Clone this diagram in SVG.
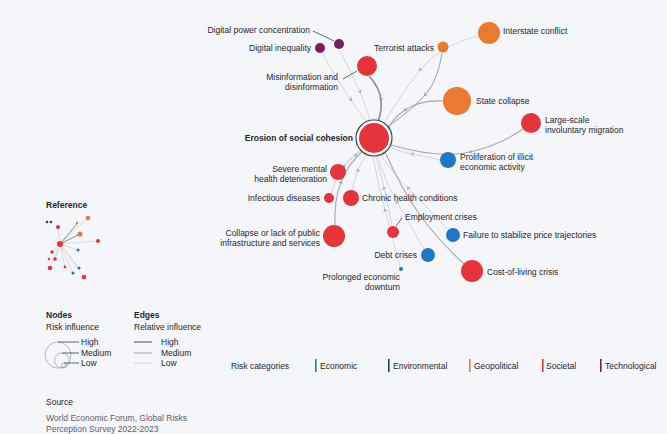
<svg xmlns="http://www.w3.org/2000/svg" width="667" height="434" viewBox="0 0 667 434">
<defs>
<style>
text{font-family:"Liberation Sans",Arial,sans-serif;font-size:8.5px;fill:#1f2630}
.b{font-weight:bold}
.e{text-anchor:end}
.src{fill:#5a6270}
.soc{fill:#e5343c}
.geo{fill:#ea7a2f}
.eco{fill:#1f78c1}
.tec{fill:#7b1d5c}
.hi{fill:none;stroke:#8d9299;stroke-width:1.7}
.md{fill:none;stroke:#a6abb2;stroke-width:1.1}
.lo{fill:none;stroke:#c3c7cc;stroke-width:0.7}
.ed path{marker-mid:url(#chev)}
.lead{stroke:#3a424c;stroke-width:0.8}
</style>
<marker id="chev" viewBox="0 0 6 6" refX="3" refY="3" markerWidth="5" markerHeight="5" orient="auto" markerUnits="userSpaceOnUse">
<path d="M1 1 L4 3 L1 5" fill="none" stroke="#9aa0a7" stroke-width="1"/>
</marker>
</defs>
<rect width="667" height="434" fill="#f4f6f9"/>

<g id="connectors" class="ed">
<path class="lo" d="M322 53 Q336 78 351 100 T367 122"/>
<path class="lo" d="M339 50 Q352 72 360 92 T370 121"/>
<path class="lo" d="M478 36 Q440 45 420 70 T384 123"/>
<path class="hi" d="M369 76 Q380 88 381 100 T378 121"/>
<path class="md" d="M442 53 Q438 80 425 95 T387 127"/>
<path class="md" d="M443 101 Q420 100 405 110 T388 131"/>
<path class="md" d="M523 129 Q500 145 470 152 T391 145"/>
<path class="lo" d="M440 160 Q425 156 412 154 T391 147"/>
<path class="lo" d="M345 166 Q352 158 356 155 T362 149"/>
<path class="lo" d="M331 193 Q336 178 344 166 T362 151"/>
<path class="md" d="M335 225 Q334 200 341 182 T363 151"/>
<path class="lo" d="M352 190 Q354 180 358 170 T367 155"/>
<path class="lo" d="M392 226 Q388 205 384 188 T376 156"/>
<path class="lo" d="M447 229 Q425 205 408 188 T381 155"/>
<path class="lo" d="M424 249 Q410 225 397 202 T378 156"/>
<path class="lo" d="M400 267 Q392 235 385 210 T373 156"/>
<path class="md" d="M464 264 Q438 240 420 215 T385 152"/>
</g>

<g id="n-center">
<circle cx="374" cy="138" r="18" fill="#ffffff" stroke="#3a4550" stroke-width="1.2"/>
<circle class="soc" cx="374" cy="138" r="15"/>
<text class="b e" x="353" y="141">Erosion of social cohesion</text>
</g>
<g id="n-digital-power">
<circle class="tec" cx="339" cy="44" r="5"/>
<line class="lead" x1="313" y1="31" x2="334" y2="41"/>
<text class="e" x="310" y="33">Digital power concentration</text>
</g>
<g id="n-digital-inequality">
<circle class="tec" cx="320" cy="48" r="5"/>
<text class="e" x="311" y="51">Digital inequality</text>
</g>
<g id="n-misinformation">
<circle class="soc" cx="367" cy="66" r="10"/>
<line class="lead" x1="343" y1="79" x2="357" y2="71"/>
<text class="e" x="338" y="80">Misinformation and</text>
<text class="e" x="338" y="90">disinformation</text>
</g>
<g id="n-terrorist">
<circle class="geo" cx="443" cy="47" r="5.5"/>
<text class="e" x="434" y="51">Terrorist attacks</text>
</g>
<g id="n-interstate">
<circle class="geo" cx="489" cy="33" r="11"/>
<text x="503" y="34">Interstate conflict</text>
</g>
<g id="n-state-collapse">
<circle class="geo" cx="457" cy="101" r="14"/>
<text x="476" y="104">State collapse</text>
</g>
<g id="n-migration">
<circle class="soc" cx="531" cy="123" r="10"/>
<text x="545" y="123">Large-scale</text>
<text x="545" y="133">involuntary migration</text>
</g>
<g id="n-illicit">
<circle class="eco" cx="448" cy="160" r="8"/>
<text x="460" y="160">Proliferation of illicit</text>
<text x="460" y="170">economic activity</text>
</g>
<g id="n-mental">
<circle class="soc" cx="338" cy="172" r="8"/>
<text class="e" x="327" y="172">Severe mental</text>
<text class="e" x="327" y="182">health deterioration</text>
</g>
<g id="n-infectious">
<circle class="soc" cx="329" cy="198" r="5"/>
<text class="e" x="320" y="201">Infectious diseases</text>
</g>
<g id="n-chronic">
<circle class="soc" cx="351" cy="198" r="8"/>
<text x="362" y="201">Chronic health conditions</text>
</g>
<g id="n-infrastructure">
<circle class="soc" cx="334" cy="236" r="11"/>
<text class="e" x="320" y="236">Collapse or lack of public</text>
<text class="e" x="320" y="246">infrastructure and services</text>
</g>
<g id="n-employment">
<circle class="soc" cx="393" cy="232" r="6"/>
<line class="lead" x1="396" y1="226" x2="402" y2="218"/>
<text x="405" y="220">Employment crises</text>
</g>
<g id="n-price">
<circle class="eco" cx="453" cy="235" r="7"/>
<text x="463" y="238">Failure to stabilize price trajectories</text>
</g>
<g id="n-debt">
<circle class="eco" cx="428" cy="255" r="7"/>
<text class="e" x="417" y="258">Debt crises</text>
</g>
<g id="n-downturn">
<circle class="eco" cx="401" cy="269" r="2"/>
<text class="e" x="400" y="280">Prolonged economic</text>
<text class="e" x="400" y="290">downturn</text>
</g>
<g id="n-cost-of-living">
<circle class="soc" cx="472" cy="271" r="11"/>
<text x="487" y="275">Cost-of-living crisis</text>
</g>

<g id="legend-reference">
<text class="b" x="46" y="208">Reference</text>
<g stroke="#c8ccd1" stroke-width="0.6">
<line x1="60" y1="244" x2="58" y2="227"/>
<line x1="60" y1="244" x2="98" y2="241"/>
<line x1="60" y1="244" x2="88" y2="218"/>
<line x1="60" y1="244" x2="78" y2="250"/>
<line x1="60" y1="244" x2="52" y2="252"/>
<line x1="60" y1="244" x2="50" y2="268"/>
<line x1="60" y1="244" x2="65" y2="267"/>
<line x1="60" y1="244" x2="79" y2="268"/>
<line x1="60" y1="244" x2="73" y2="273"/>
<line x1="60" y1="244" x2="84" y2="277"/>
<line x1="60" y1="244" x2="55" y2="259"/>
</g>
<g stroke="#7a8088" stroke-width="0.9">
<line x1="60" y1="244" x2="77" y2="224"/>
<line x1="60" y1="244" x2="80" y2="234"/>
</g>
<circle class="tec" cx="47" cy="222" r="1.3"/>
<circle class="tec" cx="51" cy="222" r="1.3"/>
<circle class="soc" cx="58" cy="227" r="2"/>
<circle class="geo" cx="88" cy="218" r="2.2"/>
<circle class="geo" cx="77" cy="223" r="1.2"/>
<circle class="geo" cx="80" cy="234" r="2.6"/>
<circle class="soc" cx="98" cy="241" r="2"/>
<circle class="soc" cx="60" cy="244" r="3"/>
<circle class="eco" cx="78" cy="250" r="1.5"/>
<circle class="soc" cx="52" cy="252" r="1.8"/>
<circle class="soc" cx="49" cy="259" r="1.2"/>
<circle class="soc" cx="55" cy="259" r="1.8"/>
<circle class="soc" cx="50" cy="268" r="2.3"/>
<circle class="soc" cx="65" cy="267" r="1.4"/>
<circle class="eco" cx="79" cy="268" r="1.5"/>
<circle class="eco" cx="73" cy="273" r="1.5"/>
<circle class="soc" cx="84" cy="277" r="2.3"/>
</g>

<g id="legend-nodes">
<text class="b" x="46" y="318">Nodes</text>
<text x="46" y="330">Risk influence</text>
<g fill="none" stroke="#9aa0a7" stroke-width="0.7">
<circle cx="58" cy="355" r="13"/>
<circle cx="62" cy="360.5" r="7.5"/>
<circle cx="64" cy="365.5" r="2.5"/>
</g>
<g stroke="#3a424c" stroke-width="0.8">
<line x1="58" y1="342" x2="79" y2="342"/>
<line x1="62" y1="353" x2="79" y2="353"/>
<line x1="64" y1="363" x2="79" y2="363"/>
</g>
<text x="81" y="345">High</text>
<text x="81" y="356">Medium</text>
<text x="81" y="366">Low</text>
</g>

<g id="legend-edges">
<text class="b" x="134" y="318">Edges</text>
<text x="134" y="330">Relative influence</text>
<line class="hi" x1="134" y1="342" x2="152" y2="342"/>
<line class="md" x1="134" y1="353" x2="152" y2="353"/>
<line class="lo" x1="134" y1="363" x2="152" y2="363"/>
<text x="161" y="345">High</text>
<text x="161" y="356">Medium</text>
<text x="161" y="366">Low</text>
</g>

<g id="legend-categories">
<text x="231" y="369">Risk categories</text>
<rect x="315" y="359" width="1.6" height="13" fill="#1f78c1"/>
<text x="320" y="369">Economic</text>
<rect x="388" y="359" width="1.6" height="13" fill="#1c4a3a"/>
<text x="393" y="369">Environmental</text>
<rect x="469" y="359" width="1.6" height="13" fill="#ea7a2f"/>
<text x="474" y="369">Geopolitical</text>
<rect x="542" y="359" width="1.6" height="13" fill="#e5343c"/>
<text x="546" y="369">Societal</text>
<rect x="600" y="359" width="1.6" height="13" fill="#7b1d5c"/>
<text x="605" y="369">Technological</text>
</g>

<g id="source">
<text x="46" y="405">Source</text>
<text class="src" x="46" y="421">World Economic Forum, Global Risks</text>
<text class="src" x="46" y="432">Perception Survey 2022-2023</text>
</g>
</svg>
